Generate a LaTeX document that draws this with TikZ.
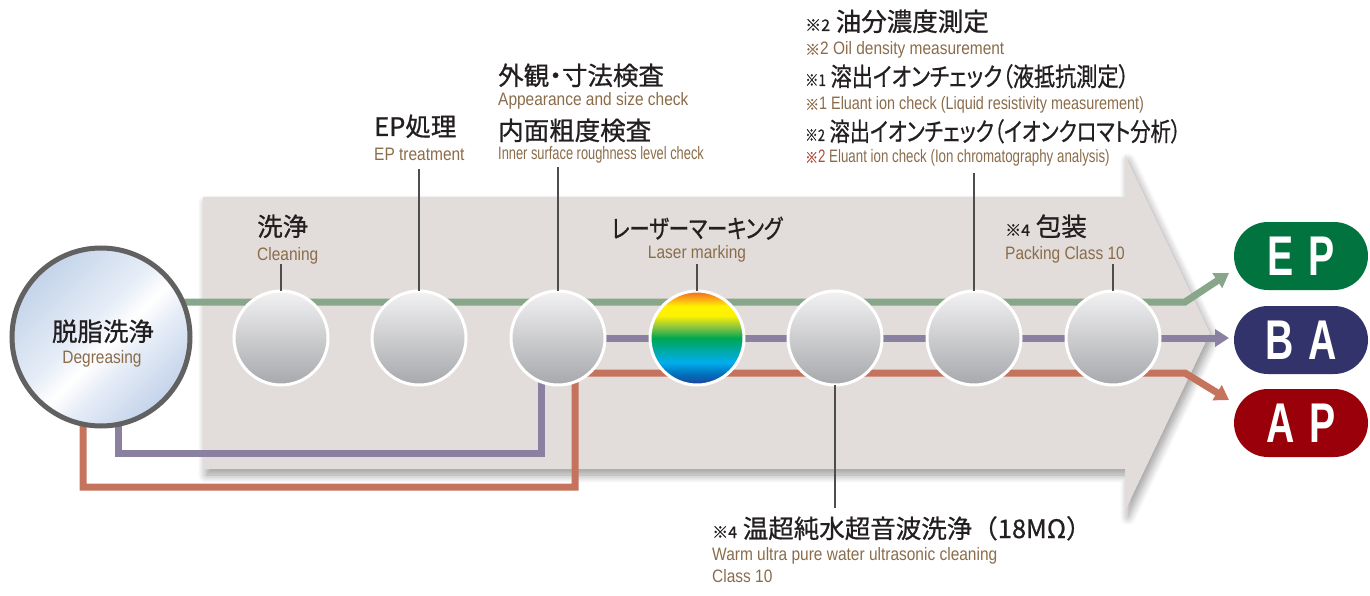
\documentclass[tikz,border=0pt]{standalone}
\usepackage{fontspec}
\setmainfont{Liberation Sans}
\newfontfamily\jp[RawFeature=+palt,FakeBold=0.8]{Noto Sans CJK JP}
\newfontfamily\jpk[RawFeature=+palt,FakeBold=0.8,FakeStretch=0.8]{Noto Sans CJK JP}
\newfontfamily\jpn[FakeBold=0.8]{Noto Sans CJK JP}
\newfontfamily\cond[FakeStretch=0.86]{Liberation Sans}
\newfontfamily\badgefont[FakeStretch=0.7]{Liberation Sans}
\usetikzlibrary{arrows.meta,shadows.blur}
\definecolor{bgarrow}{HTML}{E2DDDA}
\definecolor{lgreen}{HTML}{88A68A}
\definecolor{lpurple}{HTML}{8A80A0}
\definecolor{lred}{HTML}{C5735D}
\definecolor{txtb}{HTML}{8A6C4A}
\definecolor{txtk}{HTML}{231F20}
\definecolor{txtr}{HTML}{B04A3A}
\definecolor{leaderc}{HTML}{4D4D4D}
\definecolor{epc}{HTML}{00733F}
\definecolor{bac}{HTML}{33336B}
\definecolor{apc}{HTML}{990009}
\definecolor{cTop}{HTML}{F2F2F3}
\definecolor{cBot}{HTML}{A7A8AC}
\definecolor{gl1}{HTML}{C3D3EA}
\definecolor{gl2}{HTML}{E6EDF7}
\definecolor{rbA}{HTML}{21409A}
\definecolor{rbB}{HTML}{0072BC}
\definecolor{rbC}{HTML}{00AEEF}
\definecolor{rbD}{HTML}{00A99D}
\definecolor{rbE}{HTML}{00A651}
\definecolor{rbF}{HTML}{8DC63F}
\definecolor{rbG}{HTML}{FFF200}
\definecolor{rbH}{HTML}{FDB913}
\definecolor{rbI}{HTML}{F26522}
\pgfdeclareverticalshading{rainbow}{100bp}{color(0bp)=(rbA); color(25bp)=(rbA); color(31bp)=(rbB); color(37bp)=(rbC); color(44bp)=(rbD); color(50bp)=(rbE); color(56bp)=(rbF); color(62bp)=(rbG); color(67bp)=(rbG); color(70bp)=(rbH); color(75bp)=(rbI); color(100bp)=(rbI)}
\pgfdeclareverticalshading{glass}{100bp}{color(0bp)=(gl1); color(25bp)=(gl1); color(40bp)=(gl2); color(47bp)=(white); color(55bp)=(gl2); color(75bp)=(gl1); color(100bp)=(gl1)}
\newcommand\kome[1]{{\fontsize{16}{16}\selectfont #1}}
\newcommand\kmark{{\jp\fontsize{15}{15}\selectfont ※}}
\newcommand\hsq[2]{\scalebox{#1}[1]{#2}}
\tikzset{
  stepc/.style={circle, draw=white, line width=3pt, minimum size=94pt, inner sep=0pt, top color=cTop, bottom color=cBot},
  jpl/.style={font=\jp\fontsize{25.5}{28}\selectfont, text=txtk, inner sep=0pt, anchor=base west},
  enl/.style={font=\cond\fontsize{18}{20}\selectfont, text=txtb, inner sep=0pt, anchor=base west},
  leader/.style={draw=leaderc, line width=1.2pt},
  flow/.style={line width=7pt},
  tipa/.style={-{Triangle[length=14pt,width=17pt]}},
  badge/.style={rounded corners=34pt, minimum width=134pt, minimum height=68pt, text=white, font=\badgefont\bfseries\fontsize{56}{56}\selectfont, inner sep=0pt},
}
\begin{document}
\begin{tikzpicture}[x=1pt,y=-1pt]
\useasboundingbox (0,0) rectangle (1370,596);
% big grey arrow
\path[fill=bgarrow, blur shadow={shadow xshift=3pt,shadow yshift=-6pt,shadow blur radius=8pt,shadow blur steps=10,shadow opacity=40}]
  (203,197) -- (1125,197) -- (1125,155) -- (1210,333) -- (1125,511) -- (1125,469) -- (203,469) -- cycle;
% positions
\coordinate (degpos) at (101,337);
\coordinate (gB) at (1185,302);
\coordinate (gT) at (1229,273);
\coordinate (pB) at (541,453);
\coordinate (pT) at (1229,338);
\coordinate (rB) at (575,487);
\coordinate (rK) at (575,373);
\coordinate (rH) at (1185,373);
\coordinate (rT) at (1229,400);
\node[circle, minimum size=178pt, inner sep=0pt] (deg) at (degpos) {};
\foreach \i/\x in {1/281,2/419,3/558,4/697,5/835,6/974,7/1113}
  \node[circle, minimum size=94pt, inner sep=0pt] (c\i) at (\x,338) {};
% flow lines
\draw[flow, lgreen, tipa] ([yshift=35pt]deg.center) -- (gB) -- (gT);
\draw[flow, lpurple] ([xshift=17pt]deg.center) |- (pB) -- (pB |- c3.center);
\draw[flow, lpurple, tipa] (c3.center) -- (pT);
\draw[flow, lred, tipa] ([xshift=-18pt]deg.center) |- (rB) -- (rK) -- (rH) -- (rT);
% circles
\node[circle, draw=black!62, line width=5pt, minimum size=178pt, inner sep=0pt, shading=glass, shading angle=45] at (deg) {};
\foreach \i in {1,2,3,5,6,7}
  \node[stepc] at (c\i) {};
\node[stepc, shading=rainbow] at (c4) {};
% leaders
\draw[leader] (c1.north) -- ++(0,-27);
\draw[leader] (c2.north) -- ++(0,-122);
\draw[leader] (c3.north) -- ++(0,-124);
\draw[leader] (c4.north) -- ++(0,-27);
\draw[leader] (c5.south) -- ++(0,123);
\draw[leader] (c6.north) -- ++(0,-118);
\draw[leader] (c7.north) -- ++(0,-27);
% labels
\node[jpl, anchor=base] (degj) at (103,341) {脱脂洗浄};
\node[enl, anchor=base] (dege) at (102,363) {Degreasing};
\node[jpl] (l1) at (257,236) {洗浄};
\node[enl] (l1e) at (257,260) {Cleaning};
\node[jpl] (l2) at (374,136) {EP処理};
\node[enl] (l2e) at (374,161) {EP treatment};
\node[jpl] (l3a) at (498,85) {外観・寸法検査};
\node[enl] (l3b) at (498,106) {Appearance and size check};
\node[jpl] (l3c) at (498,140) {内面粗度検査};
\node[enl] (l3d) at (498,160) {\hsq{0.83}{Inner surface roughness level check}};
\node[jpl, anchor=base] (l4) at (697,238) {\jpk レーザーマーキング};
\node[enl, anchor=base] (l4e) at (697,258) {Laser marking};
\node[jpl] (l5a) at (712,538) {\kome{※4} 温超純水超音波洗浄{\jpn（}18MΩ{\jpn ）}};
\node[enl] (l5b) at (712,560) {Warm ultra pure water ultrasonic cleaning};
\node[enl] (l5c) at (712,582) {Class 10};
\node[jpl] (l6a) at (805,31) {\kome{※2} 油分濃度測定};
\node[enl] (l6b) at (805,55) {\kmark2 Oil density measurement};
\node[jpl] (l6c) at (805,86) {\hsq{0.83}{\kome{※1} 溶出イオンチェック（液抵抗測定）}};
\node[enl] (l6d) at (805,110) {\hsq{0.93}{\kmark1 Eluant ion check (Liquid resistivity measurement)}};
\node[jpl] (l6e) at (805,141) {\hsq{0.795}{\kome{※2} 溶出イオンチェック（イオンクロマト分析）}};
\node[enl] (l6f) at (805,163) {\hsq{0.86}{\textcolor{txtr}{\kmark2} Eluant ion check (Ion chromatography analysis)}};
\node[jpl] (l7) at (1005,236) {\kome{※4} 包装};
\node[enl] (l7e) at (1005,259) {Packing Class 10};
% badges
\node[badge, fill=epc] (ep) at (1301,256) {E\hspace{4pt} P};
\node[badge, fill=bac] (ba) at (1301,340) {B\hspace{4pt} A};
\node[badge, fill=apc] (ap) at (1301,423) {A\hspace{4pt} P};
\end{tikzpicture}
\end{document}
